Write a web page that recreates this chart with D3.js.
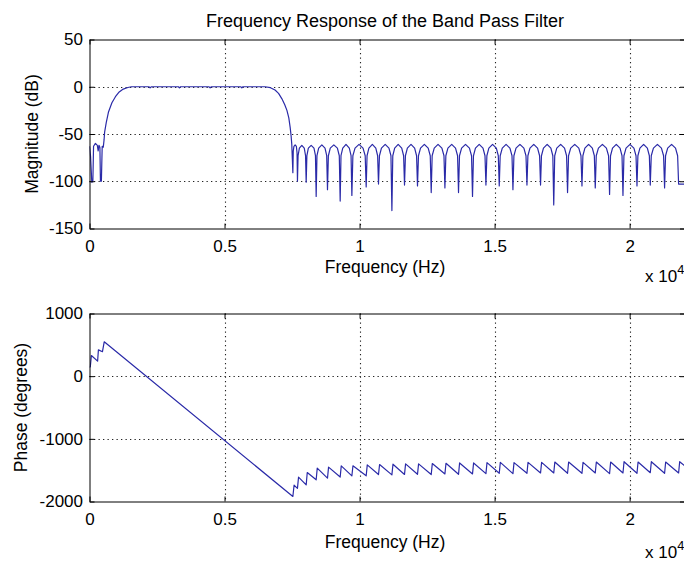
<!DOCTYPE html>
<html><head><meta charset="utf-8">
<script src="https://cdn.jsdelivr.net/npm/d3@7"></script>
<style>
html,body{margin:0;padding:0;background:#fff;overflow:hidden}
svg{display:block}
text{font-family:"Liberation Sans",Arial,Helvetica,sans-serif;fill:#000}
</style></head><body>
<svg id="chart" width="684" height="561"></svg>
<script>
// ---------------- data ----------------
const titleText = "Frequency Response of the Band Pass Filter";
const xLabel = "Frequency (Hz)";
const magLabel = "Magnitude (dB)";
const phaseLabel = "Phase (degrees)";
const xDomain = [0, 22050];
const xTicks = [0, 5000, 10000, 15000, 20000];
const xTickLabels = ["0", "0.5", "1", "1.5", "2"];
const xExponent = ["x 10", "4"];
const magDomain = [-150, 50];
const magTicks = [50, 0, -50, -100, -150];
const magTickLabels = ["50", "0", "-50", "-100", "-150"];
const phaseDomain = [-2000, 1000];
const phaseTicks = [1000, 0, -1000, -2000];
const phaseTickLabels = ["1000", "0", "-1000", "-2000"];

// magnitude response [Hz, dB]
const magnitude = [
[0,-63],[40,-74],[85,-101],[125,-100],[150,-63],[220,-60],[290,-62],[320,-68],[350,-62],[385,-64],[405,-100],[440,-100],[470,-63],[510,-64],
[540,-56],[560,-48],[620,-38],[700,-27],[830,-17],[960,-10.5],[1100,-5.5],[1250,-2.5],[1420,-0.8],[1550,0],
[2200,0],[2244,-1.2],[2290,0],[3290,0],[3330,-1.2],[3370,0],[4420,0],[4467,-1.2],[4510,0],[5600,0],[5641,-1.2],[5680,0],[6500,0],
[6700,-1],[6870,-3.5],[7000,-7],[7120,-12.5],[7230,-19],[7310,-25],[7380,-33],[7430,-43],[7465,-52],[7490,-61],[7510,-76],[7530,-91],
[7545,-68],[7570,-63],[7615,-61.5],[7660,-63],[7685,-70],[7700,-100],
[7723,-73],[7771,-65],[7862,-62],[7952,-65],[8000,-73],[8023,-101],
[8049,-73],[8104,-65],[8208,-62],[8312,-65],[8367,-73],[8393,-116],
[8422,-73],[8485,-65],[8603,-61.5],[8720,-65],[8783,-73],[8812,-109],
[8845,-73],[8915,-65],[9047,-61.5],[9179,-65],[9249,-73],[9282,-121],
[9312,-73],[9377,-65],[9498,-61],[9620,-65],[9685,-73],[9715,-115],
[9752,-73],[9832,-65],[9980,-61],[10128,-65],[10208,-73],[10245,-106],
[10277,-73],[10345,-65],[10473,-61],[10601,-65],[10669,-73],[10701,-103],
[10736,-73],[10810,-65],[10949,-61],[11088,-65],[11162,-73],[11197,-131],
[11230,-73],[11300,-65],[11430,-61],[11561,-65],[11631,-73],[11664,-104],
[11698,-73],[11770,-65],[11905,-61],[12039,-65],[12111,-73],[12145,-105],
[12181,-73],[12257,-65],[12399,-61],[12541,-65],[12617,-73],[12653,-112],
[12688,-73],[12765,-65],[12906,-61],[13048,-65],[13125,-73],[13160,-107],
[13195,-73],[13271,-65],[13412,-61],[13553,-65],[13629,-73],[13664,-112],
[13700,-73],[13778,-65],[13923,-61],[14068,-65],[14146,-73],[14182,-116],
[14217,-73],[14291,-65],[14430,-61],[14570,-65],[14644,-73],[14679,-104],
[14714,-73],[14787,-65],[14925,-61],[15064,-65],[15137,-73],[15172,-105],
[15207,-73],[15284,-65],[15425,-61],[15567,-65],[15644,-73],[15679,-109],
[15715,-73],[15793,-65],[15938,-61],[16084,-65],[16162,-73],[16198,-104],
[16233,-73],[16309,-65],[16450,-61],[16591,-65],[16666,-73],[16701,-104],
[16735,-73],[16809,-65],[16946,-61],[17083,-65],[17156,-73],[17190,-125],
[17226,-73],[17302,-65],[17446,-61],[17589,-65],[17665,-73],[17701,-112],
[17738,-73],[17818,-65],[17968,-61],[18118,-65],[18198,-73],[18235,-105],
[18269,-73],[18343,-65],[18481,-61],[18619,-65],[18693,-73],[18727,-107],
[18764,-73],[18844,-65],[18992,-61],[19140,-65],[19220,-73],[19257,-114],
[19292,-73],[19366,-65],[19505,-61],[19644,-65],[19718,-73],[19753,-115],
[19789,-73],[19867,-65],[20012,-61],[20158,-65],[20236,-73],[20272,-105],
[20306,-73],[20380,-65],[20518,-61],[20656,-65],[20730,-73],[20764,-104],
[20801,-73],[20881,-65],[21029,-61],[21177,-65],[21257,-73],[21294,-107],
[21330,-73],[21408,-65],[21553,-61],[21699,-65],[21777,-73],[21813,-103],
[22050,-103]
];

// phase response [Hz, degrees]
const phase = [
[0,140],[30,150],[70,330],[300,240],[330,420],[480,390],[545,548],[7530,-1920],
[7575,-1740],[7700,-1790],[7740,-1612],[8023,-1734],[8063,-1538],[8393,-1654],[8433,-1468],[8812,-1628],[8852,-1452],
[9282,-1610],[9322,-1431],[9715,-1591],[9755,-1430],[10245,-1590],[10285,-1415],[10701,-1570],[10741,-1410],
[11197,-1575],[11237,-1405],[11664,-1568],[11704,-1400],[12145,-1565],[12185,-1400],[12653,-1570],[12693,-1395],
[13160,-1560],[13200,-1390],[13664,-1565],[13704,-1385],[14182,-1560],[14222,-1385],[14679,-1555],[14719,-1380],
[15172,-1550],[15212,-1375],[15679,-1555],[15719,-1380],[16198,-1550],[16238,-1375],[16701,-1545],[16741,-1375],
[17190,-1545],[17230,-1370],[17701,-1550],[17741,-1370],[18235,-1550],[18275,-1375],[18727,-1545],[18767,-1370],
[19257,-1555],[19297,-1370],[19753,-1545],[19793,-1365],[20272,-1550],[20312,-1370],[20764,-1540],[20804,-1365],
[21294,-1550],[21334,-1370],[21813,-1545],[21853,-1365],[22050,-1435]
];

// ---------------- drawing ----------------
const svg = d3.select("#chart");
const FS_TICK = 17, FS_LABEL = 17.5, FS_TITLE = 18;
const FONT = '"Liberation Sans",Arial,Helvetica,sans-serif';
const lineColor = "#2a2aa8";
const left = 89.5, right = 685;
const x = d3.scaleLinear().domain(xDomain).range([left, right]);

const panels = [
  {top: 39.5, bottom: 228.5, domain: magDomain, ticks: magTicks, tickLabels: magTickLabels, data: magnitude,
   label: magLabel, labelX: 38, xLabelY: 273, expY: 282},
  {top: 313.5, bottom: 501.5, domain: phaseDomain, ticks: phaseTicks, tickLabels: phaseTickLabels, data: phase,
   label: phaseLabel, labelX: 27, xLabelY: 548, expY: 558}
];

svg.append("text").attr("x", 385).attr("y", 27).attr("text-anchor", "middle")
  .style("font-size", FS_TITLE + "px").text(titleText);

panels.forEach((p, pi) => {
  const y = d3.scaleLinear().domain(p.domain).range([p.bottom, p.top]);
  const g = svg.append("g");

  // grid
  const grid = g.append("g").attr("stroke", "#222").attr("stroke-width", 1.1)
    .attr("stroke-dasharray", "1.3,3.2");
  grid.selectAll(".vg").data(xTicks.filter(d => d > xDomain[0])).enter().append("line")
    .attr("x1", d => Math.round(x(d)) + 0.5).attr("x2", d => Math.round(x(d)) + 0.5)
    .attr("y1", p.top).attr("y2", p.bottom);
  grid.selectAll(".hg").data(p.ticks.filter(d => d > p.domain[0] && d < p.domain[1])).enter().append("line")
    .attr("y1", d => Math.round(y(d)) + 0.5).attr("y2", d => Math.round(y(d)) + 0.5)
    .attr("x1", left).attr("x2", right);

  // data line
  const clipId = "clip" + pi;
  svg.append("clipPath").attr("id", clipId).append("rect")
    .attr("x", left).attr("y", p.top).attr("width", right - left).attr("height", p.bottom - p.top);
  g.append("path").datum(p.data)
    .attr("clip-path", `url(#${clipId})`)
    .attr("fill", "none").attr("stroke", lineColor).attr("stroke-width", 1.2)
    .attr("stroke-linejoin", "round")
    .attr("d", d3.line().x(d => x(d[0])).y(d => y(d[1])));

  // axes
  const axB = d3.axisBottom(x).tickValues(xTicks).tickFormat((d, i) => xTickLabels[i])
    .tickSizeInner(-5).tickSizeOuter(0).tickPadding(11.5);
  const axT = d3.axisTop(x).tickValues(xTicks).tickFormat("").tickSizeInner(-5).tickSizeOuter(0);
  const axL = d3.axisLeft(y).tickValues(p.ticks).tickFormat((d, i) => p.tickLabels[i])
    .tickSizeInner(-5).tickSizeOuter(0).tickPadding(6.5);
  const axR = d3.axisRight(y).tickValues(p.ticks).tickFormat("").tickSizeInner(-5).tickSizeOuter(0);

  const styleAxis = sel => {
    sel.select(".domain").attr("stroke", "#000").attr("stroke-width", 1);
    sel.selectAll(".tick line").attr("stroke", "#000").attr("stroke-width", 1);
    sel.selectAll("text").style("font-size", FS_TICK + "px")
      .style("font-family", FONT).attr("fill", "#000");
  };
  g.append("g").attr("transform", `translate(0,${p.bottom})`).call(axB).call(styleAxis);
  g.append("g").attr("transform", `translate(0,${p.top})`).call(axT).call(styleAxis);
  g.append("g").attr("transform", `translate(${left},0)`).call(axL).call(styleAxis);
  g.append("g").attr("transform", `translate(${right},0)`).call(axR).call(styleAxis);

  // labels
  g.append("text").attr("x", 385).attr("y", p.xLabelY).attr("text-anchor", "middle")
    .style("font-size", FS_LABEL + "px").text(xLabel);
  g.append("text").attr("transform", `translate(${p.labelX},${(p.top + p.bottom) / 2}) rotate(-90)`)
    .attr("text-anchor", "middle").style("font-size", FS_LABEL + "px").text(p.label);
  const ex = g.append("text").attr("x", 645).attr("y", p.expY).style("font-size", FS_TICK + "px");
  ex.append("tspan").text(xExponent[0]);
  ex.append("tspan").attr("dy", -8).style("font-size", (FS_TICK * 0.75) + "px").text(xExponent[1]);
});
</script>
</body></html>
